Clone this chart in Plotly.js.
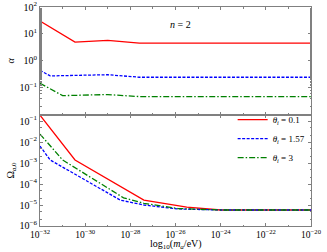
<!DOCTYPE html>
<html><head><meta charset="utf-8">
<script src="https://cdn.plot.ly/plotly-3.0.1.min.js"></script>
<style>body{margin:0}#c{width:327px;height:252px}</style>
</head><body><div id="c"></div>
<script>
// log10(m_a/eV) grid points
const alphaRedX = [-32, -30.45, -29, -27.6, -20];
const alphaRed = [30, 5.0, 5.8, 4.6, 4.6];
const alphaBlueX = [-32, -31.55, -29, -27.6, -20];
const alphaBlue = [0.45, 0.28, 0.31, 0.25, 0.25];
const alphaGreenX = [-32, -31.0, -29, -27.6, -20];
const alphaGreen = [0.15, 0.052, 0.057, 0.048, 0.048];

const omegaRedX = [-32, -30.45, -27.4, -25.5, -24, -20];
const omegaRed = [0.19, 1.4e-3, 1.7e-5, 8e-6, 5.8e-6, 5.8e-6];
const omegaBlueX = [-32, -31.55, -28.44, -27.4, -25.9, -24, -20];
const omegaBlue = [6.4e-3, 1.4e-3, 1.7e-5, 1.0e-5, 6.5e-6, 5.8e-6, 5.8e-6];
const omegaGreenX = [-32, -31.0, -28.3, -27.4, -25.9, -24, -20];
const omegaGreen = [0.024, 1.4e-3, 2.2e-5, 1.2e-5, 6.8e-6, 5.8e-6, 5.8e-6];

const legendNames = ['<i>θ<sub>i</sub></i> = 0.1', '<i>θ<sub>i</sub></i> = 1.57', '<i>θ<sub>i</sub></i> = 3'];
const xTickExp = [-32, -30, -28, -26, -24, -22, -20];
const alphaTickExp = [-1, 0, 1, 2];
const omegaTickExp = [-6, -5, -4, -3, -2, -1];

const pw = v => v.map(e => Math.pow(10, e));
const lab = v => v.map(e => '10<sup>' + (e < 0 ? '−' + (-e) : e) + '</sup>');
const colors = ['#ff0000', '#0000ff', '#008000'];
const dashes = ['solid', '3px,1.5px', '6px,2px,1.5px,2px'];

const mk = (x, y, i, ax, show) => ({
  x: pw(x), y: y, type: 'scatter', mode: 'lines',
  xaxis: ax[0], yaxis: ax[1], name: legendNames[i], showlegend: show,
  line: {color: colors[i], width: 1.3, dash: dashes[i]}
});

const data = [
  mk(alphaRedX, alphaRed, 0, ['x2', 'y2'], false),
  mk(alphaBlueX, alphaBlue, 1, ['x2', 'y2'], false),
  mk(alphaGreenX, alphaGreen, 2, ['x2', 'y2'], false),
  mk(omegaRedX, omegaRed, 0, ['x', 'y'], true),
  mk(omegaBlueX, omegaBlue, 1, ['x', 'y'], true),
  mk(omegaGreenX, omegaGreen, 2, ['x', 'y'], true)
];

const fam = 'Liberation Serif, DejaVu Serif, serif';
const font = {family: fam, size: 10, color: '#000'};
const minor = {ticks: 'inside', ticklen: 1.5, tickcolor: '#808080', showgrid: false};
const axBase = {
  type: 'log', showline: true, linecolor: '#808080', linewidth: 1, mirror: 'ticks',
  ticks: 'inside', ticklen: 3, tickcolor: '#808080', showgrid: false, zeroline: false,
  tickfont: font, minor: minor
};
const split = 0.507;
const layout = {
  width: 327, height: 252,
  margin: {l: 40, r: 16, t: 7, b: 26},
  paper_bgcolor: '#fff', plot_bgcolor: '#fff',
  font: font,
  showlegend: true,
  legend: {x: 0.995, y: split + 0.045, xanchor: 'right', yanchor: 'top', bgcolor: 'rgba(0,0,0,0)',
           font: {family: fam, size: 9}, tracegroupgap: 0, itemwidth: 30},
  xaxis: Object.assign({}, axBase, {anchor: 'y', range: [-32, -20],
          tickvals: pw(xTickExp), ticktext: lab(xTickExp), ticklabelstandoff: 0,
          tickfont: {family: fam, size: 9.5, color: '#000'}}),
  xaxis2: Object.assign({}, axBase, {anchor: 'y2', matches: 'x', range: [-32, -20],
          tickvals: pw(xTickExp), showticklabels: false}),
  yaxis: Object.assign({}, axBase, {domain: [0, split], range: [-6, -0.71],
          tickvals: pw(omegaTickExp), ticktext: lab(omegaTickExp),
          title: {text: 'Ω<sub><i>a</i>,0</sub>', font: font, standoff: 3}}),
  yaxis2: Object.assign({}, axBase, {domain: [split, 1], range: [-2, 2],
          tickvals: pw(alphaTickExp), ticktext: lab(alphaTickExp),
          title: {text: '<i>α</i>', font: font, standoff: 3}}),
  annotations: [
    {text: 'log<sub>10</sub>(<i>m<sub>a</sub></i>/eV)', xref: 'paper', yref: 'paper',
     x: 0.5, y: -0.086, yanchor: 'middle', showarrow: false, font: font},
    {text: '<i>n</i> = 2', xref: 'paper', yref: 'paper', x: 0.52, y: 0.955,
     showarrow: false, font: {family: fam, size: 10}}
  ]
};
Plotly.newPlot('c', data, layout, {displayModeBar: false, staticPlot: true});
</script></body></html>
